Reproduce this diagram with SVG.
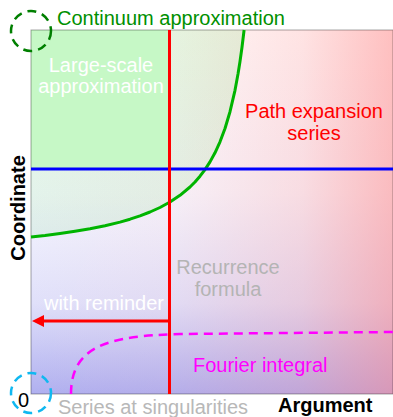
<svg xmlns="http://www.w3.org/2000/svg" width="393" height="417" viewBox="0 0 393 417">
<style>
text{font-family:"Liberation Sans",Arial,sans-serif;font-size:20px}
.mid{text-anchor:middle}
.b{font-weight:bold;fill:#000}
.dash{fill:none;stroke-width:2.5;stroke-dasharray:9,6}
</style>
<defs>
<linearGradient id="gv" x1="0" y1="30" x2="0" y2="394" gradientUnits="userSpaceOnUse">
<stop offset="0" stop-color="#ffffff"/>
<stop offset="0.45" stop-color="#f6f6fe"/>
<stop offset="0.75" stop-color="#e0e0fa"/>
<stop offset="1" stop-color="#b0b0f0"/>
</linearGradient>
<linearGradient id="gh" x1="31" y1="0" x2="393" y2="0" gradientUnits="userSpaceOnUse">
<stop offset="0" stop-color="#ff8080" stop-opacity="0"/>
<stop offset="0.4" stop-color="#ff8080" stop-opacity="0.06"/>
<stop offset="0.75" stop-color="#ff8080" stop-opacity="0.22"/>
<stop offset="1" stop-color="#ff8080" stop-opacity="0.5"/>
</linearGradient>
<linearGradient id="gg" x1="0" y1="30" x2="0" y2="237" gradientUnits="userSpaceOnUse">
<stop offset="0" stop-color="#00d000" stop-opacity="0.1"/>
<stop offset="1" stop-color="#00d000" stop-opacity="0.07"/>
</linearGradient>
<marker id="ah" viewBox="0 0 12 12" refX="0" refY="6" markerWidth="12" markerHeight="12" markerUnits="userSpaceOnUse" orient="auto">
<path d="M0,0 L12,6 L0,12 Z" fill="#ff0000"/>
</marker>
</defs>

<g id="background">
<rect x="31" y="30" width="362" height="364" fill="url(#gv)"/>
<rect x="31" y="30" width="362" height="364" fill="url(#gh)"/>
<path d="M31,30 L244.1,30 L242,47.3 L240,61.6 L238,74.1 L235,90.3 L230,111.7 L225,128.5 L220,141.8 L215,152.8 L210,161.9 L205,169.6 L200,176.2 L195,182 L190,187 L180,195.3 L170,202 L160,207.5 L150,212 L140,215.9 L130,219.2 L120,222.1 L105,225.7 L90,228.8 L75,231.3 L60,233.5 L45,235.5 L31,237 Z" fill="url(#gg)"/>
<rect x="31" y="30" width="139" height="139" fill="#c6f8c6"/>
<rect x="31" y="30" width="362" height="364" fill="none" stroke="#000" stroke-opacity="0.35" stroke-width="1"/>
</g>

<g id="connectors">
<path id="green-curve" d="M31,237 L45,235.5 L60,233.5 L75,231.3 L90,228.8 L105,225.7 L120,222.1 L130,219.2 L140,215.9 L150,212 L160,207.5 L170,202 L180,195.3 L190,187 L195,182 L200,176.2 L205,169.6 L210,161.9 L215,152.8 L220,141.8 L225,128.5 L230,111.7 L235,90.3 L238,74.1 L240,61.6 L242,47.3 L244.1,30" fill="none" stroke="#00b400" stroke-width="3" stroke-linejoin="round"/>
<line id="blue-line" x1="31" y1="169" x2="393" y2="169" stroke="#0000ff" stroke-width="3"/>
<line id="red-line" x1="169.5" y1="30" x2="169.5" y2="394" stroke="#ff0000" stroke-width="3"/>
<line id="red-arrow" x1="169.5" y1="321" x2="44" y2="321" stroke="#ff0000" stroke-width="3" marker-end="url(#ah)"/>
<path id="magenta-curve" class="dash" d="M71,394 C71,345 110,336 180,334 L393,332" stroke="#ff00ff"/>
</g>

<g id="continuum">
<circle cx="31" cy="31" r="20" class="dash" stroke="#007f00" stroke-dasharray="8,6"/>
<text x="57" y="25" fill="#009000">Continuum approximation</text>
</g>
<g id="large-scale">
<text class="mid" x="101" y="72" fill="#ffffff">Large-scale</text>
<text class="mid" x="101" y="93" fill="#ffffff">approximation</text>
</g>
<g id="path-expansion">
<text class="mid" x="314" y="118" fill="#ff0000">Path expansion</text>
<text class="mid" x="314" y="140" fill="#ff0000">series</text>
</g>
<g id="recurrence">
<text class="mid" x="228" y="274" fill="#b4b4b4">Recurrence</text>
<text class="mid" x="228" y="296" fill="#b4b4b4">formula</text>
</g>
<g id="with-reminder">
<text class="mid" x="104" y="310" fill="#ffffff">with reminder</text>
</g>
<g id="fourier">
<text x="193" y="372" fill="#ff00ff">Fourier integral</text>
</g>
<g id="singularities">
<circle cx="31" cy="393" r="20" class="dash" stroke="#10b8f0" stroke-dasharray="8,6"/>
<text x="18" y="407" fill="#000">0</text>
<text x="58" y="414" fill="#b8b8b8">Series at singularities</text>
</g>
<g id="axes">
<text class="b" x="278" y="412">Argument</text>
<text class="b mid" transform="translate(25,208) rotate(-90)">Coordinate</text>
</g>
</svg>
